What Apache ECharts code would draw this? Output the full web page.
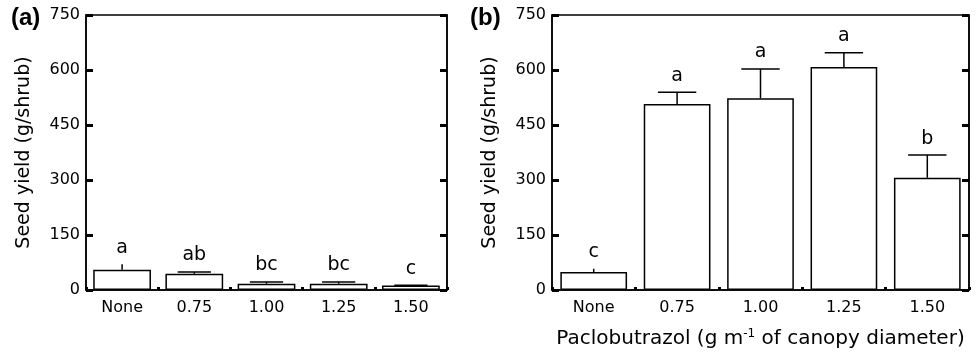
<!DOCTYPE html>
<html>
<head>
<meta charset="utf-8">
<script src="https://cdn.jsdelivr.net/npm/echarts@6/dist/echarts.min.js"></script>
<style>
html,body{margin:0;padding:0;background:#fff;}
#chart{width:976px;height:355px;}
</style>
</head>
<body>
<div id="chart"></div>
<script>
const categories = ['None', '0.75', '1.00', '1.25', '1.50'];
const yieldA = [55, 44, 17, 17, 12];
const errTopA = [70, 49, 22, 22, 13];
const lettersA = ['a', 'ab', 'bc', 'bc', 'c'];
const yieldB = [49, 507, 523, 608, 306];
const errTopB = [58, 539, 603, 647, 368];
const lettersB = ['c', 'a', 'a', 'a', 'b'];
const yMin = 0, yMax = 750, yInterval = 150;
const yTitle = 'Seed yield (g/shrub)';
const panelLabels = ['(a)', '(b)'];

const FONT = 'DejaVu Sans';
const chart = echarts.init(document.getElementById('chart'), null, {renderer: 'canvas'});

function errRenderer(letters) {
  return function (params, api) {
    const i = api.value(0);
    const top = api.coord([i, api.value(2)]);
    const base = api.coord([i, api.value(1)]);
    const capW = api.size([1, 0])[0] * 0.46;
    const children = [{
      type: 'line',
      shape: {x1: base[0], y1: base[1], x2: top[0], y2: top[1]},
      style: {stroke: '#000', lineWidth: 1.5}
    }];
    if (params.dataIndex !== 0) {
      children.push({
        type: 'line',
        shape: {x1: top[0] - capW / 2, y1: top[1], x2: top[0] + capW / 2, y2: top[1]},
        style: {stroke: '#000', lineWidth: 1.5}
      });
    }
    children.push({
      type: 'text',
      style: {
        text: letters[params.dataIndex],
        x: top[0], y: top[1] - 7,
        align: 'center', verticalAlign: 'bottom',
        font: '19px "' + FONT + '"', fill: '#000'
      }
    });
    return {type: 'group', children: children};
  };
}

function xAxisCfg(gridIndex, name) {
  return {
    type: 'category', gridIndex: gridIndex, data: categories, boundaryGap: true,
    axisLine: {show: true, lineStyle: {color: '#000', width: 1.5}},
    axisTick: {show: true, inside: true, length: 3, lineStyle: {color: '#000', width: 3}},
    axisLabel: {color: '#000', fontFamily: FONT, fontSize: 16, margin: 10},
    splitLine: {show: false},
    name: name || '',
    nameLocation: 'middle', nameGap: 38,
    nameTextStyle: {
      color: '#000', fontFamily: FONT, fontSize: 20,
      rich: {sup: {fontFamily: FONT, fontSize: 12, color: '#000', padding: [0, 0, 10, 0]}}
    }
  };
}

function yAxisCfg(gridIndex, pos, showLabels, gap) {
  return {
    type: 'value', gridIndex: gridIndex, position: pos,
    min: yMin, max: yMax, interval: yInterval,
    axisLine: {show: true, lineStyle: {color: '#000', width: 1.5}},
    axisTick: {show: true, inside: true, length: 7, lineStyle: {color: '#000', width: 3}},
    axisLabel: {show: showLabels, color: '#000', fontFamily: FONT, fontSize: 16, margin: 6},
    splitLine: {show: false},
    name: showLabels ? yTitle : '',
    nameLocation: 'middle', nameRotate: 90, nameGap: gap,
    nameTextStyle: {color: '#000', fontFamily: FONT, fontSize: 19}
  };
}

const option = {
  backgroundColor: '#fff',
  animation: false,
  grid: [
    {left: 86, width: 361, top: 15, height: 275, show: true, borderColor: '#000', borderWidth: 1.5, backgroundColor: 'transparent'},
    {left: 552, width: 417, top: 15, height: 275, show: true, borderColor: '#000', borderWidth: 1.5, backgroundColor: 'transparent'}
  ],
  xAxis: [
    xAxisCfg(0, ''),
    xAxisCfg(1, 'Paclobutrazol (g m{sup|-1} of canopy diameter)')
  ],
  yAxis: [
    yAxisCfg(0, 'left', true, 52),
    yAxisCfg(0, 'right', false, 0),
    yAxisCfg(1, 'left', true, 52),
    yAxisCfg(1, 'right', false, 0)
  ],
  graphic: [
    {type: 'text', left: 11, top: 6, style: {text: panelLabels[0], font: 'bold 24px "Liberation Sans"', fill: '#000'}},
    {type: 'text', left: 470, top: 6, style: {text: panelLabels[1], font: 'bold 24px "Liberation Sans"', fill: '#000'}}
  ],
  series: [
    {type: 'bar', xAxisIndex: 0, yAxisIndex: 0, data: yieldA, barWidth: '80%',
     itemStyle: {color: '#fff', borderColor: '#000', borderWidth: 1.5}},
    {type: 'custom', xAxisIndex: 0, yAxisIndex: 0, renderItem: errRenderer(lettersA),
     data: categories.map((c, i) => [i, yieldA[i], errTopA[i]]), z: 3},
    {type: 'bar', xAxisIndex: 1, yAxisIndex: 2, data: yieldB, barWidth: '80%',
     itemStyle: {color: '#fff', borderColor: '#000', borderWidth: 1.5}},
    {type: 'custom', xAxisIndex: 1, yAxisIndex: 2, renderItem: errRenderer(lettersB),
     data: categories.map((c, i) => [i, yieldB[i], errTopB[i]]), z: 3}
  ]
};
chart.setOption(option);
</script>
</body>
</html>
